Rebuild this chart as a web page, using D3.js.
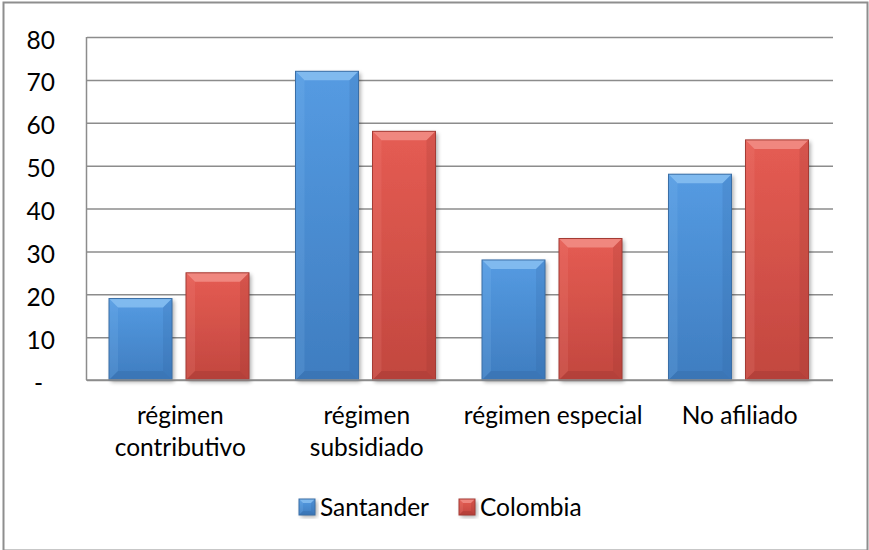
<!DOCTYPE html>
<html>
<head>
<meta charset="utf-8">
<script src="https://cdn.jsdelivr.net/npm/d3@7"></script>
<style>
    body { margin: 0; background: #fff; }
    svg text { font-family: Lato, "Open Sans", sans-serif; fill: #000; }
</style>
</head>
<body>
<div id="chart"></div>
<script>
// data
const categories = ['régimen contributivo', 'régimen subsidiado', 'régimen especial', 'No afiliado']
const categoryLines = [['régimen', 'contributivo'], ['régimen', 'subsidiado'], ['régimen especial'], ['No afiliado']]
const seriesNames = ['Santander', 'Colombia']
const santander = [19, 72, 28, 48]
const colombia = [25, 58, 33, 56]
const yTicks = [0, 10, 20, 30, 40, 50, 60, 70, 80]
const yTickLabels = ['-', '10', '20', '30', '40', '50', '60', '70', '80']

const width = 869
const height = 550
const margin = { left: 87, top: 37, right: 36, bottom: 170 }
const fontSize = 24.5

const palette = {
    Santander: { top: '#559be2', bottom: '#3f7dc0', light: '#93c8f5', dark: '#2f609a', line: '#3a6ea6' },
    Colombia: { top: '#e55c53', bottom: '#c2473f', light: '#f59a93', dark: '#8f302a', line: '#a43b34' }
}

const series = seriesNames.map((name, i) => ({ name, values: [santander, colombia][i] }))

const svg = d3.select('#chart')
    .append('svg')
    .attr('width', width)
    .attr('height', height)

const defs = svg.append('defs')

const shadow = defs.append('filter').attr('id', 'shadow')
    .attr('x', '-20%').attr('y', '-20%').attr('width', '140%').attr('height', '140%')
shadow.append('feGaussianBlur').attr('in', 'SourceAlpha').attr('stdDeviation', 2)
shadow.append('feOffset').attr('dx', 2).attr('dy', 2).attr('result', 'off')
shadow.append('feComponentTransfer').append('feFuncA').attr('type', 'linear').attr('slope', 0.35)
const merge = shadow.append('feMerge')
merge.append('feMergeNode')
merge.append('feMergeNode').attr('in', 'SourceGraphic')

seriesNames.forEach(name => {
    const c = palette[name]
    const g = defs.append('linearGradient').attr('id', 'grad-' + name)
        .attr('x1', 0).attr('y1', 0).attr('x2', 0).attr('y2', 1)
    g.append('stop').attr('offset', '0%').attr('stop-color', c.top)
    g.append('stop').attr('offset', '100%').attr('stop-color', c.bottom)
})

// outer chart border
svg.append('rect')
    .attr('x', 3.5).attr('y', 2.5)
    .attr('width', 864).attr('height', 548)
    .attr('fill', 'none')
    .attr('stroke', '#8e8e8e')
    .attr('stroke-width', 2)

const plotW = width - margin.left - margin.right
const plotH = height - margin.top - margin.bottom

const x0 = d3.scaleBand()
    .domain(categories)
    .range([margin.left, margin.left + plotW])

const x1 = d3.scaleBand()
    .domain(seriesNames)
    .range([22, 162])
    .paddingInner(14 / 77)

const y = d3.scaleLinear()
    .domain([0, 80])
    .range([margin.top + plotH, margin.top])

// gridlines
svg.append('g')
    .attr('transform', `translate(${margin.left},0)`)
    .call(d3.axisLeft(y).tickValues(yTicks).tickSize(-plotW).tickFormat(''))
    .call(g => g.select('.domain').remove())
    .call(g => g.selectAll('line').attr('stroke', '#8c8c8c').attr('stroke-width', 1.5))

// y labels
svg.append('g')
    .selectAll('text')
    .data(yTicks)
    .join('text')
    .attr('x', (d, i) => yTickLabels[i] === '-' ? 43 : 55)
    .attr('y', d => y(d) + 11.5)
    .attr('text-anchor', 'end')
    .attr('font-size', fontSize)
    .text((d, i) => yTickLabels[i])

// vertical axis line
svg.append('line')
    .attr('x1', margin.left - 0.5).attr('x2', margin.left - 0.5)
    .attr('y1', y(80)).attr('y2', y(0))
    .attr('stroke', '#8c8c8c').attr('stroke-width', 1.5)

function bevelBar (g, w, h, name) {
    const c = palette[name]
    const b = Math.min(9, w / 4, h / 3)
    g.append('rect')
        .attr('width', w).attr('height', h)
        .attr('fill', `url(#grad-${name})`)
        .attr('filter', 'url(#shadow)')
    g.append('polygon')
        .attr('points', [[0, 0], [w, 0], [w - b, b], [b, b]].join(' '))
        .attr('fill', c.light).attr('opacity', 0.7)
    g.append('polygon')
        .attr('points', [[0, 0], [b, b], [b, h - b], [0, h]].join(' '))
        .attr('fill', c.light).attr('opacity', 0.15)
    g.append('polygon')
        .attr('points', [[w, 0], [w - b, b], [w - b, h - b], [w, h]].join(' '))
        .attr('fill', c.dark).attr('opacity', 0.18)
    g.append('polygon')
        .attr('points', [[0, h], [w, h], [w - b, h - b], [b, h - b]].join(' '))
        .attr('fill', c.dark).attr('opacity', 0.28)
    g.append('rect')
        .attr('width', w).attr('height', h)
        .attr('fill', 'none')
        .attr('stroke', c.line).attr('stroke-width', 1)
}

// bars
const groups = svg.append('g')
    .selectAll('g')
    .data(categories)
    .join('g')
    .attr('transform', d => `translate(${x0(d)},0)`)

groups.each(function (cat, ci) {
    series.forEach(s => {
        const v = s.values[ci]
        const bar = d3.select(this).append('g')
            .attr('transform', `translate(${x1(s.name)},${y(v)})`)
        bevelBar(bar, x1.bandwidth(), y(0) - y(v), s.name)
    })
})

// horizontal axis line
svg.append('line')
    .attr('x1', margin.left - 1).attr('x2', margin.left + plotW)
    .attr('y1', y(0)).attr('y2', y(0))
    .attr('stroke', '#8c8c8c').attr('stroke-width', 1.5)

// category labels
svg.append('g')
    .selectAll('text')
    .data(categories)
    .join('text')
    .attr('x', d => x0(d) + x0.bandwidth() / 2)
    .attr('y', 424)
    .attr('text-anchor', 'middle')
    .attr('font-size', fontSize)
    .each(function (d, i) {
        d3.select(this).selectAll('tspan')
            .data(categoryLines[i])
            .join('tspan')
            .attr('x', x0(d) + x0.bandwidth() / 2)
            .attr('dy', (t, j) => j === 0 ? 0 : 32)
            .text(t => t)
    })

// legend
const legendX = [299, 459]
const legend = svg.append('g')
    .selectAll('g')
    .data(seriesNames)
    .join('g')
    .attr('transform', (d, i) => `translate(${legendX[i]},499)`)

legend.each(function (name) {
    bevelBar(d3.select(this).append('g'), 16, 16, name)
})
legend.append('text')
    .attr('x', 21)
    .attr('y', 17)
    .attr('font-size', fontSize)
    .text(d => d)
</script>
</body>
</html>
